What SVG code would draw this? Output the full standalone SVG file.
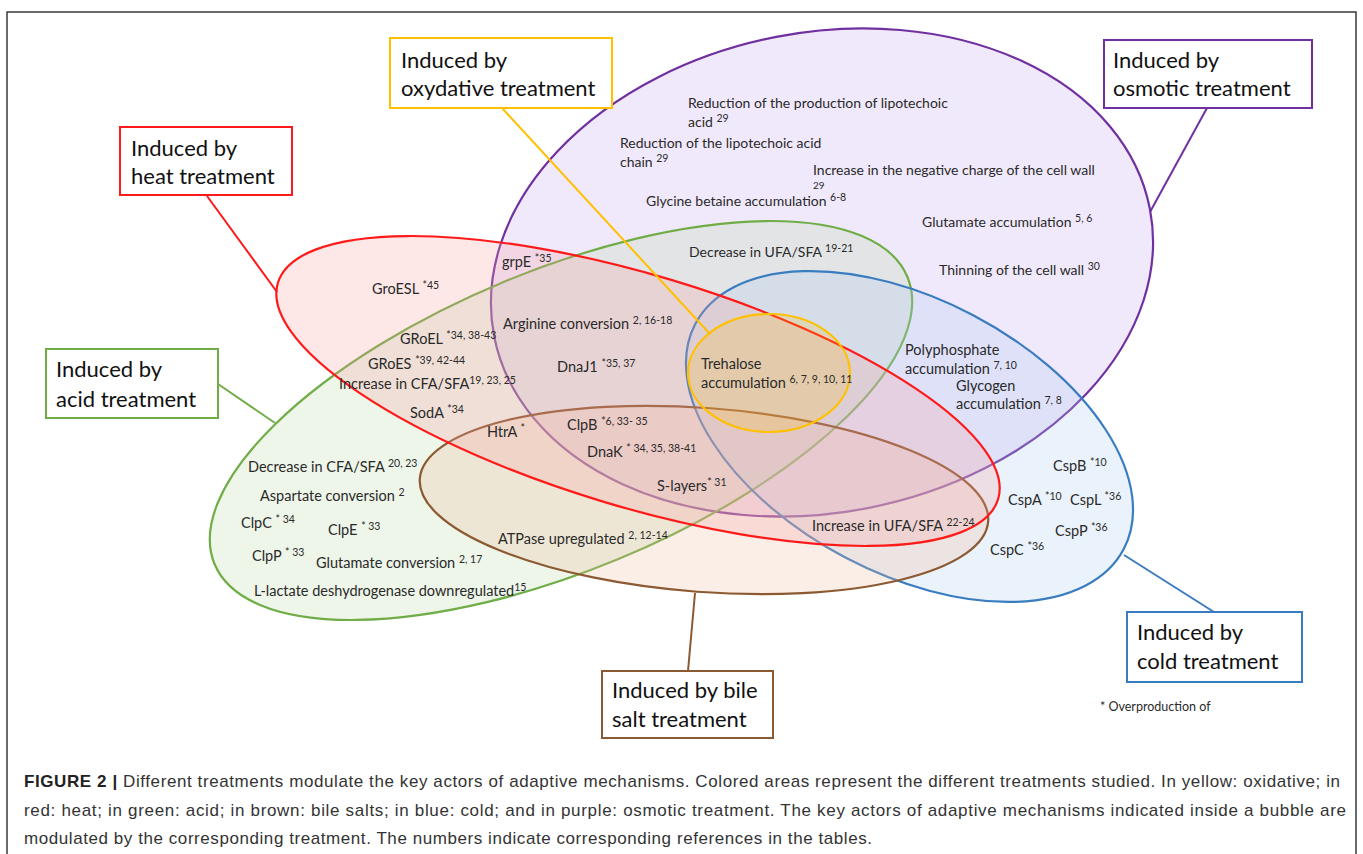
<svg xmlns="http://www.w3.org/2000/svg" width="1363" height="854" viewBox="0 0 1363 854">
<style>
.frame{fill:none;stroke:#3a3a3a;stroke-width:1.5}
.reg{stroke-width:2.2}
.box{fill:#fff;stroke-width:2}
.bt{font-family:Lato,"Open Sans",sans-serif;font-size:22px;fill:#111}
.lb{font-family:Lato,"Open Sans",sans-serif;font-size:14.5px;fill:#2a2a2a}
.lt{font-family:Lato,"Open Sans",sans-serif;font-size:14px;fill:#2a2a2a}
.sup{font-size:10.5px;baseline-shift:5px}
.cap{font-family:"Liberation Sans",Arial,sans-serif;font-size:17px;fill:#333}
.capb{font-weight:bold;fill:#222}
.conn line{stroke-width:2}
</style>
<rect class="frame" x="7" y="12" width="1349" height="870"/>

<g id="region-osmotic"><ellipse class="reg" cx="822" cy="272.5" rx="334" ry="240" transform="rotate(-11 822 272.5)" fill="#c4a8f0" fill-opacity="0.25" stroke="#7030a0"/></g>
<g id="region-acid"><ellipse class="reg" cx="561" cy="420.5" rx="375" ry="150" transform="rotate(-22.5 561 420.5)" fill="#bbd7a7" fill-opacity="0.25" stroke="#70ad47"/></g>
<g id="region-cold"><ellipse class="reg" cx="909.5" cy="436.5" rx="242" ry="137" transform="rotate(27.7 909.5 436.5)" fill="#abcbef" fill-opacity="0.25" stroke="#3a7cc0"/></g>
<g id="region-bile"><ellipse class="reg" cx="704" cy="500" rx="285" ry="92" transform="rotate(4.3 704 500)" fill="#efbb9b" fill-opacity="0.25" stroke="#8c5a32"/></g>
<g id="region-heat"><ellipse class="reg" cx="638" cy="391" rx="376" ry="116" transform="rotate(16.7 638 391)" fill="#f8a0a0" fill-opacity="0.25" stroke="#ff1a1a"/></g>
<g id="region-oxidative"><ellipse class="reg" cx="769" cy="373" rx="81" ry="59" fill="#ffc000" fill-opacity="0.2" stroke="#ffc000"/></g>

<g id="connectors" class="conn">
<line x1="207" y1="196" x2="277" y2="292" stroke="#ff1a1a"/>
<line x1="502" y1="108" x2="710" y2="334" stroke="#ffc000"/>
<line x1="1207" y1="108" x2="1150" y2="212" stroke="#7030a0"/>
<line x1="218" y1="384" x2="275" y2="423" stroke="#70ad47"/>
<line x1="1214" y1="612" x2="1124" y2="555" stroke="#3a7cc0"/>
<line x1="688" y1="671" x2="695" y2="593" stroke="#8c5a32"/>
</g>

<g id="box-heat"><rect class="box" x="120" y="127" width="172" height="68" stroke="#ff1a1a"/><text class="bt" x="131" y="156">Induced by</text><text class="bt" x="131" y="184">heat treatment</text></g>
<g id="box-oxidative"><rect class="box" x="390" y="38" width="222" height="70" stroke="#ffc000"/><text class="bt" x="401" y="68">Induced by</text><text class="bt" x="401" y="96">oxydative treatment</text></g>
<g id="box-osmotic"><rect class="box" x="1104" y="40" width="208" height="68" stroke="#7030a0"/><text class="bt" x="1113" y="68">Induced by</text><text class="bt" x="1113" y="96">osmotic treatment</text></g>
<g id="box-acid"><rect class="box" x="46" y="349" width="172" height="69" stroke="#70ad47"/><text class="bt" x="56" y="377">Induced by</text><text class="bt" x="56" y="407">acid treatment</text></g>
<g id="box-cold"><rect class="box" x="1127" y="612" width="175" height="70" stroke="#3a7cc0"/><text class="bt" x="1137" y="640">Induced by</text><text class="bt" x="1137" y="669">cold treatment</text></g>
<g id="box-bile"><rect class="box" x="602" y="671" width="171" height="67" stroke="#8c5a32"/><text class="bt" x="612" y="698">Induced by bile</text><text class="bt" x="612" y="727">salt treatment</text></g>

<g id="labels">
<text class="lt" x="688" y="108">Reduction of the production  of lipotechoic</text>
<text class="lt" x="688" y="127">acid <tspan class="sup">29</tspan></text>
<text class="lt" x="620" y="148">Reduction of the lipotechoic acid</text>
<text class="lt" x="620" y="167">chain <tspan class="sup">29</tspan></text>
<text class="lt" x="813" y="175">Increase in the negative charge of the cell wall</text>
<text class="lt" x="813" y="189" style="font-size:10px">29</text>
<text class="lt" x="646" y="206">Glycine betaine accumulation <tspan class="sup">6-8</tspan></text>
<text class="lt" x="922" y="227">Glutamate accumulation <tspan class="sup">5, 6</tspan></text>
<text class="lt" x="689" y="257">Decrease in UFA/SFA <tspan class="sup">19-21</tspan></text>
<text class="lt" x="939" y="275">Thinning of the cell wall <tspan class="sup">30</tspan></text>

<text class="lb" x="502" y="267">grpE <tspan class="sup">*35</tspan></text>
<text class="lb" x="372" y="294">GroESL <tspan class="sup">*45</tspan></text>
<text class="lb" x="503" y="329">Arginine conversion <tspan class="sup">2, 16-18</tspan></text>
<text class="lb" x="400" y="344">GRoEL <tspan class="sup">*34, 38-43</tspan></text>
<text class="lb" x="368" y="369">GRoES <tspan class="sup">*39, 42-44</tspan></text>
<text class="lb" x="557" y="372">DnaJ1 <tspan class="sup">*35, 37</tspan></text>
<text class="lb" x="339" y="389">Increase in CFA/SFA<tspan class="sup">19, 23, 25</tspan></text>
<text class="lb" x="410" y="418">SodA <tspan class="sup">*34</tspan></text>
<text class="lb" x="487" y="437">HtrA <tspan class="sup">*</tspan></text>
<text class="lb" x="567" y="430">ClpB <tspan class="sup">*6, 33- 35</tspan></text>
<text class="lb" x="587" y="457">DnaK <tspan class="sup">* 34, 35, 38-41</tspan></text>
<text class="lb" x="657" y="491">S-layers<tspan class="sup">* 31</tspan></text>

<text class="lb" x="701" y="369">Trehalose</text>
<text class="lb" x="701" y="388">accumulation <tspan class="sup">6, 7, 9, 10, 11</tspan></text>
<text class="lb" x="905" y="355">Polyphosphate</text>
<text class="lb" x="905" y="374">accumulation <tspan class="sup">7, 10</tspan></text>
<text class="lb" x="956" y="391">Glycogen</text>
<text class="lb" x="956" y="409">accumulation <tspan class="sup">7, 8</tspan></text>

<text class="lb" x="248" y="472">Decrease in CFA/SFA <tspan class="sup">20, 23</tspan></text>
<text class="lb" x="260" y="501">Aspartate conversion <tspan class="sup">2</tspan></text>
<text class="lb" x="241" y="528">ClpC <tspan class="sup">* 34</tspan></text>
<text class="lb" x="328" y="535">ClpE <tspan class="sup">* 33</tspan></text>
<text class="lb" x="252" y="561">ClpP <tspan class="sup">* 33</tspan></text>
<text class="lb" x="316" y="568">Glutamate conversion <tspan class="sup">2, 17</tspan></text>
<text class="lb" x="498" y="544">ATPase upregulated <tspan class="sup">2, 12-14</tspan></text>
<text class="lb" x="254" y="596">L-lactate deshydrogenase downregulated<tspan class="sup">15</tspan></text>
<text class="lb" x="812" y="531">Increase in UFA/SFA <tspan class="sup">22-24</tspan></text>

<text class="lb" x="1053" y="471">CspB <tspan class="sup">*10</tspan></text>
<text class="lb" x="1008" y="505">CspA <tspan class="sup">*10</tspan></text>
<text class="lb" x="1070" y="505">CspL <tspan class="sup">*36</tspan></text>
<text class="lb" x="1055" y="536">CspP <tspan class="sup">*36</tspan></text>
<text class="lb" x="990" y="555">CspC <tspan class="sup">*36</tspan></text>

<text class="lt" x="1100" y="711" style="font-size:12.5px">* Overproduction  of</text>
</g>

<g id="caption">
<text class="cap" x="24" y="787" textLength="1316"><tspan class="capb">FIGURE 2 |</tspan> Different treatments modulate the key actors of adaptive mechanisms. Colored areas represent the different treatments studied. In yellow: oxidative; in</text>
<text class="cap" x="24" y="816" textLength="1322">red: heat; in green: acid; in brown: bile salts; in blue: cold; and in purple: osmotic treatment. The key actors of adaptive mechanisms indicated inside a bubble are</text>
<text class="cap" x="24" y="844" textLength="848">modulated by the corresponding treatment. The numbers indicate corresponding references in the tables.</text>
</g>
</svg>
